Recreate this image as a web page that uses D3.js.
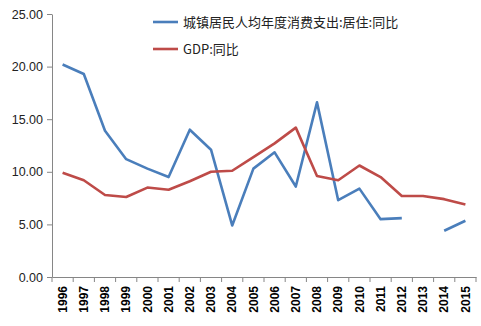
<!DOCTYPE html>
<html><head><meta charset="utf-8">
<script src="https://cdn.jsdelivr.net/npm/d3@7/dist/d3.min.js"></script>
<style>body{margin:0;background:#fff}svg{display:block}</style>
</head><body><svg id="c" width="481" height="326"></svg>
<script>
const years = ["1996","1997","1998","1999","2000","2001","2002","2003","2004","2005","2006","2007","2008","2009","2010","2011","2012","2013","2014","2015"];
const housing = [20.2,19.3,13.9,11.2,10.3,9.5,14.0,12.1,4.9,10.3,11.85,8.6,16.6,7.3,8.4,5.5,5.6,null,4.4,5.35];
const gdp = [9.9,9.2,7.8,7.6,8.5,8.3,9.1,10.0,10.1,11.4,12.7,14.2,9.6,9.2,10.6,9.5,7.7,7.7,7.4,6.9];
const yTicks = [0,5,10,15,20,25];
const seriesNames = ["城镇居民人均年度消费支出:居住:同比","GDP:同比"];
const colors = ["#4a7ebb","#be4b48"];

(function(){
const svg = d3.select("#c");
const mL = 52, mR = 476, mT = 14, mB = 277;
const x = d3.scaleBand().domain(years).range([mL, mR]);
const y = d3.scaleLinear().domain([0,25]).range([mB, mT]);

const ya = svg.append("g").attr("transform",`translate(${mL},0)`)
  .call(d3.axisLeft(y).tickValues(yTicks).tickSize(5).tickSizeOuter(0).tickFormat(d3.format(".2f")));
ya.select(".domain").attr("stroke","#868686");
ya.selectAll(".tick line").attr("stroke","#868686");
ya.selectAll("text").attr("font-family","Liberation Sans, Arial, sans-serif").attr("font-size",12.5).attr("fill","#222").attr("x",-9);

const xa = svg.append("g").attr("transform",`translate(0,${mB})`)
  .call(d3.axisBottom(x).tickSize(0).tickSizeOuter(0));
xa.select(".domain").attr("stroke","#868686");
xa.selectAll("text").attr("font-family","Liberation Sans, Arial, sans-serif").attr("font-size",12).attr("font-weight","bold").attr("fill","#000")
  .attr("transform","rotate(-90)").attr("text-anchor","end").attr("dy","0.35em").attr("x",-9).attr("y",0);
const bounds = years.map(d=>x(d)).concat([x(years[years.length-1])+x.bandwidth()]);
svg.append("g").selectAll("line").data(bounds).join("line")
  .attr("x1",d=>d).attr("x2",d=>d).attr("y1",mB).attr("y2",mB+5).attr("stroke","#868686");

const line = d3.line().defined(d=>d.v!=null).x(d=>x(d.k)+x.bandwidth()/2).y(d=>y(d.v));
[housing,gdp].forEach((arr,i)=>{
  svg.append("path").datum(arr.map((v,j)=>({k:years[j],v})))
    .attr("d",line).attr("fill","none").attr("stroke",colors[i]).attr("stroke-width",2.6).attr("stroke-linejoin","round");
});

seriesNames.forEach((n,i)=>{
  const ly = 22 + i*27;
  svg.append("line").attr("x1",153).attr("x2",178).attr("y1",ly).attr("y2",ly).attr("stroke",colors[i]).attr("stroke-width",2.6);
  svg.append("text").attr("x",183).attr("y",ly+5).text(n)
    .attr("font-family","Noto Sans CJK SC, sans-serif").attr("font-size",13).attr("fill","#222");
});
})();
</script></body></html>
